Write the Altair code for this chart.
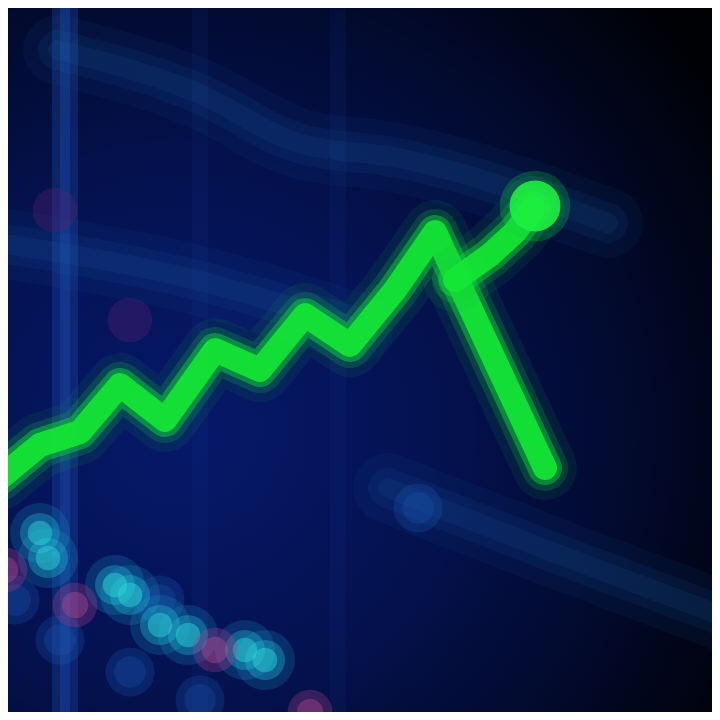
import altair as alt
import pandas as pd

# Main (green) price series: time index, price level
green_t = [-8, 32, 72, 112, 157, 207, 252, 297, 342, 387, 427, 537]
green_p = [470, 437, 424, 377, 412, 342, 362, 307, 337, 282, 224, 460]

# Secondary green segment toward the bright end point
green2_t = [447, 482, 507, 525]
green2_p = [272, 247, 224, 200]

# Lower cyan / pink dotted series
cyan_t = [32, 40, 107, 122, 152, 180, 237, 257]
cyan_p = [525, 550, 577, 587, 617, 627, 642, 652]
pink_t = [-3, 67, 207, 302, 47, 122]
pink_p = [562, 597, 642, 704, 202, 312]
blue_t = [52, 122, 192, 7, 152, 410]
blue_p = [632, 664, 692, 592, 592, 500]

# Glow bands (background grid)
band_id = ["a", "a", "a", "a", "a", "b", "b", "b", "c", "c", "c"]
band_t = [50, 190, 290, 390, 600, 380, 560, 720, -8, 180, 350]
band_p = [42, 85, 135, 150, 215, 480, 550, 610, 235, 270, 320]
vline_t = [57]
vline2_t = [192, 330]

W = H = 704
xs = alt.Scale(domain=[0, 704], nice=False, zero=False)
ys = alt.Scale(domain=[0, 704], nice=False, zero=False, reverse=True)
noax = None
X = lambda: alt.X("t:Q", scale=xs, axis=noax)
Y = lambda: alt.Y("p:Q", scale=ys, axis=noax)

bg = alt.Chart(pd.DataFrame({"a": [0]})).mark_rect(
    color={"gradient": "radial", "x1": 0.25, "y1": 0.6, "r1": 0.0,
           "x2": 0.25, "y2": 0.6, "r2": 0.9,
           "stops": [{"offset": 0, "color": "#06186a"},
                     {"offset": 0.4, "color": "#041250"},
                     {"offset": 0.7, "color": "#020a2e"},
                     {"offset": 1, "color": "#000105"}]}
).encode(x=alt.value(0), x2=alt.value(W), y=alt.value(0), y2=alt.value(H))

vmain = alt.Chart(pd.DataFrame({"t": vline_t})).mark_rule(
    color="#1a4aa8", opacity=0.35, strokeWidth=26
).encode(x=X())
vmain2 = alt.Chart(pd.DataFrame({"t": vline_t})).mark_rule(
    color="#2458b8", opacity=0.3, strokeWidth=10
).encode(x=X())
vsub = alt.Chart(pd.DataFrame({"t": vline2_t})).mark_rule(
    color="#1a3c98", opacity=0.12, strokeWidth=16
).encode(x=X())

bdf = pd.DataFrame({"id": band_id, "t": band_t, "p": band_p, "o": list(range(len(band_t)))})
def band(w, op, col):
    return alt.Chart(bdf).mark_line(color=col, strokeWidth=w, opacity=op, interpolate="monotone",
                                    strokeCap="round").encode(
        x=X(), y=Y(), detail="id:N", order="o:Q")
bands = [band(70, 0.08, "#1a60b0"), band(40, 0.1, "#1e6ab8"), band(20, 0.1, "#2a78c0")]

def dots(t, p, col, op, size):
    return alt.Chart(pd.DataFrame({"t": t, "p": p})).mark_circle(
        color=col, opacity=op, size=size).encode(x=X(), y=Y())

cyan = [dots(blue_t, blue_p, "#1a5ab8", 0.25, 2400),
        dots(blue_t, blue_p, "#1a5ab8", 0.25, 1000),
        dots(cyan_t, cyan_p, "#18a0d0", 0.2, 3600),
        dots(cyan_t, cyan_p, "#20c0d8", 0.35, 1600),
        dots(cyan_t, cyan_p, "#30dcdc", 0.45, 600),
        dots(pink_t[:4], pink_p[:4], "#b04090", 0.3, 2000),
        dots(pink_t[:4], pink_p[:4], "#c8509a", 0.35, 700),
        dots(pink_t[4:], pink_p[4:], "#5a2070", 0.35, 2000)]

gdf = pd.DataFrame({"t": green_t, "p": green_p, "o": list(range(len(green_t)))})
g2df = pd.DataFrame({"t": green2_t, "p": green2_p, "o": list(range(len(green2_t)))})

def gline(df, w, op, col):
    return alt.Chart(df).mark_line(color=col, strokeWidth=w, opacity=op,
                                   strokeCap="round", strokeJoin="round").encode(
        x=X(), y=Y(), order="o:Q")

layers = [bg, vsub, vmain, vmain2] + bands + cyan
for df in (gdf, g2df):
    layers += [gline(df, 64, 0.1, "#10b040"), gline(df, 46, 0.2, "#12cc3a"),
               gline(df, 34, 0.45, "#10dc38"), gline(df, 24, 0.9, "#14e834")]

blob = [dots([527], [198], "#10d040", 0.25, 5000), dots([527], [198], "#1ef040", 0.9, 2600)]
layers += blob

chart = alt.layer(*layers).properties(
    width=W, height=H, padding=0,
    autosize=alt.AutoSizeParams(type="none"),
    background="#020a35"
).configure_view(stroke=None, clip=True)

chart.save("out.html", embed_options={"renderer": "svg", "actions": False})
